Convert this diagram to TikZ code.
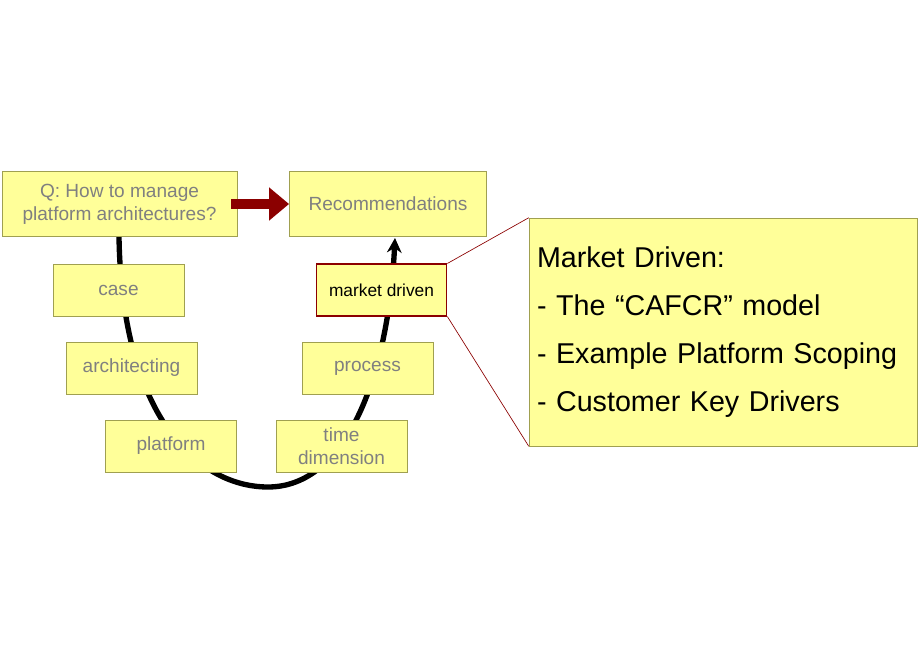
\documentclass[tikz,border=0pt]{standalone}
\usepackage{fontspec}
\setmainfont{Liberation Sans}
\usetikzlibrary{arrows.meta}
\definecolor{boxfill}{HTML}{FFFF99}
\definecolor{boxline}{HTML}{A0A050}
\definecolor{darkred}{HTML}{8B0000}
\begin{document}
\begin{tikzpicture}[x=0.75pt,y=-0.75pt,
    box/.style={rectangle,draw=boxline,fill=boxfill,text=gray,align=center,
        font=\fontsize{14.3}{17}\selectfont,inner sep=0pt},
    small/.style={box,minimum width=98pt,minimum height=39pt}]
        \useasboundingbox (0,0) rectangle (920,660);

        % the path behind the boxes
        \draw [line width=4pt,-{Stealth[length=11pt,width=11pt]}]
            (119,237) .. controls (122,420) and (200,487) .. (268,487)
            .. controls (345,487) and (388,380) .. (395,238);

        \node[box,minimum width=176pt,minimum height=49pt] (Q) at (119.5,204) {Q: How to manage\\platform architectures?};
        \node[box,minimum width=148pt,minimum height=49pt] (R) at (388,204) {Recommendations};
        \node[small] (case) at (118.5,290) {case};
        \node[small] (arch) at (131.5,368) {architecting};
        \node[small] (plat) at (171,446) {platform};
        \node[small] (time) at (341.5,446) {time\\dimension};
        \node[small] (proc) at (367.5,368) {process};
        \node[small,draw=darkred,thick,text=black,font=\fontsize{13}{15}\selectfont] (mkt) at (381.5,290) {market driven};

        \node[box,text=black,text width=279pt,minimum height=171pt,
            align=left,font=\fontsize{21.5}{36}\selectfont,inner xsep=6pt] (big) at (723,332)
            {Market Driven:\\- The “CAFCR” model\\- Example Platform Scoping\\- Customer Key Drivers};

        \draw [darkred,line width=0.5pt] (mkt.north east) -- (big.north west);
        \draw [darkred,line width=0.5pt] (mkt.south east) -- (big.south west);
        \draw [darkred,line width=7pt,-{Triangle[length=15pt,width=24pt]}] (Q.east) ++(-6,0) -- (R.west);
    \end{tikzpicture}
\end{document}
